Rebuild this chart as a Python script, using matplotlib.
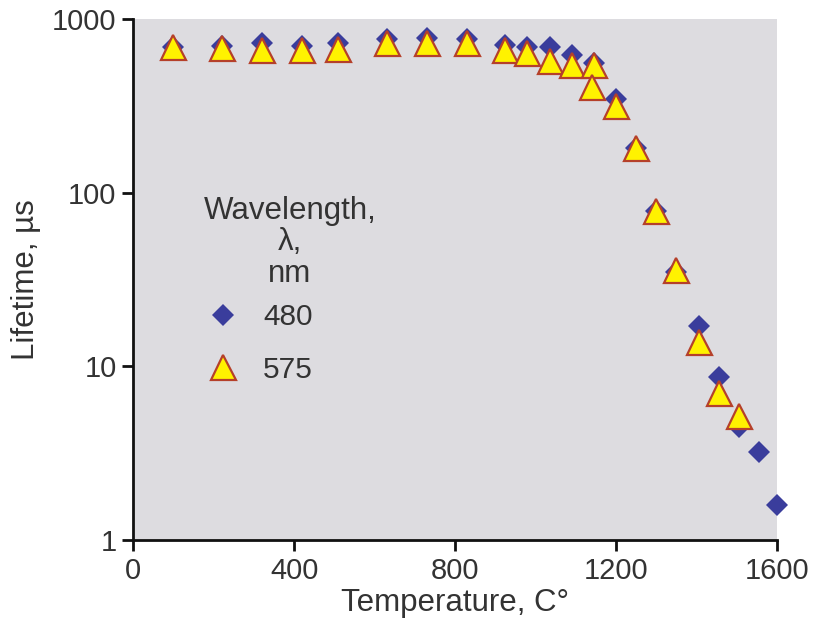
from matplotlib import pyplot as plt
from matplotlib.ticker import FixedLocator, NullLocator, FixedFormatter

# 480 nm series
temp480 = [100, 220, 320, 420, 510, 630, 730, 830, 925, 980, 1035, 1090, 1145,
           1200, 1250, 1300, 1350, 1405, 1455, 1505, 1555, 1600]
life480 = [690, 700, 725, 700, 725, 770, 780, 770, 705, 690, 690, 620, 560,
           345, 180, 78, 35, 17.2, 8.7, 4.5, 3.2, 1.6]

# 575 nm series
temp575 = [100, 220, 320, 420, 510, 630, 730, 830, 925, 980, 1035, 1090, 1145,
           1140, 1200, 1250, 1300, 1350, 1405, 1455, 1505]
life575 = [690, 680, 665, 665, 672, 725, 725, 730, 665, 637, 572, 543, 543,
           405, 316, 181, 78, 36, 13.8, 7.0, 5.2]

xTicks = [0, 400, 800, 1200, 1600]
yTicks = [1, 10, 100, 1000]
yTickLabels = ["1", "10", "100", "1000"]

plt.rcParams['font.family'] = ['Liberation Sans', 'DejaVu Sans']
textColor = "#333333"

fig = plt.figure(figsize=(8.17, 6.34), dpi=100)
ax = fig.add_axes([0.163, 0.148, 0.788, 0.822])
ax.set_facecolor("#dddce0")

ax.plot(temp480, life480, linestyle="none", marker="D", markersize=11,
        color="#3a3d9c", markeredgewidth=0, label="480", clip_on=False)
ax.plot(temp575, life575, linestyle="none", marker="^", markersize=18,
        markerfacecolor="#fff200", markeredgecolor="#b5402a", markeredgewidth=1.6,
        label="575", clip_on=False)

ax.set_yscale("log")
ax.set_xlim(0, 1600)
ax.set_ylim(1, 1000)
ax.xaxis.set_major_locator(FixedLocator(xTicks))
ax.yaxis.set_major_locator(FixedLocator(yTicks))
ax.yaxis.set_major_formatter(FixedFormatter(yTickLabels))
ax.yaxis.set_minor_locator(NullLocator())

for side in ["top", "right"]:
    ax.spines[side].set_visible(False)
for side in ["left", "bottom"]:
    ax.spines[side].set_linewidth(2)
    ax.spines[side].set_color("#111111")
    ax.spines[side].set_zorder(3)

ax.tick_params(axis="both", direction="out", length=8, width=2, color="#111111",
               labelsize=21, labelcolor=textColor, pad=4)

ax.set_xlabel("Temperature, C\u00b0", fontsize=22.5, color=textColor, labelpad=2)
ax.set_ylabel("Lifetime, \u00b5s", fontsize=22.5, color=textColor, labelpad=8)

leg = ax.legend(title="Wavelength,\n\u03bb,\nnm", loc="upper left",
                bbox_to_anchor=(0.086, 0.69), frameon=False, fontsize=21.5,
                title_fontsize=22.5, numpoints=1, handlelength=1.3,
                handletextpad=0.7, labelspacing=0.82, borderpad=0,
                alignment="left")
leg.get_title().set_multialignment("center")
leg.get_title().set_linespacing(1.08)
leg.get_title().set_color(textColor)
leg._legend_box.sep = 10  # tighter gap between title and entries
for t in leg.get_texts():
    t.set_color(textColor)

plt.savefig("out.png", dpi=100)
